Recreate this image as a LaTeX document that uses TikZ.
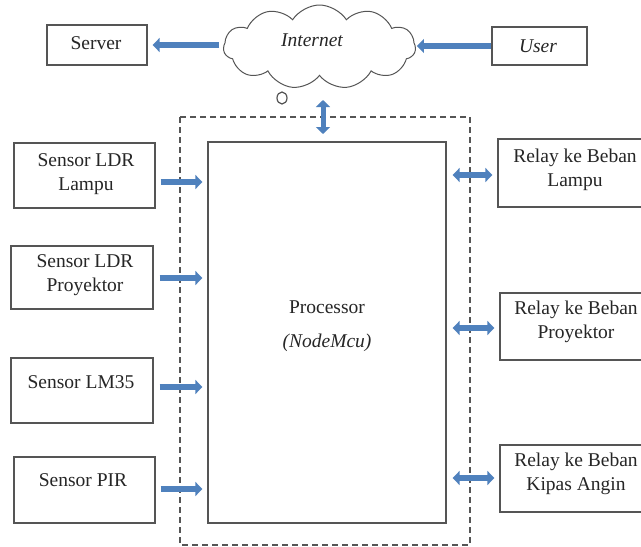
\documentclass[tikz,border=0pt]{standalone}
\usepackage{fontspec}
\setmainfont{Liberation Serif}
\usetikzlibrary{arrows.meta,shapes.symbols,shapes.geometric}
\definecolor{arrowblue}{HTML}{4F81BD}
\definecolor{boxline}{HTML}{555555}
\definecolor{txt}{HTML}{262626}
\begin{document}
\begin{tikzpicture}[x=1pt,y=-1pt,
  font=\fontsize{19.5}{23.5}\selectfont,
  box/.style={draw=boxline,line width=1.3pt,rectangle,inner sep=0pt},
  lbl/.style={text=txt,align=center,inner sep=0pt},
  fat/.style={draw=arrowblue,line width=5.5pt,-{Triangle[length=7pt,width=14pt]}},
  dfat/.style={draw=arrowblue,line width=5.5pt,{Triangle[length=7pt,width=14pt]}-{Triangle[length=7pt,width=14pt]}},
  dashbox/.style={draw=boxline,line width=1.3pt,dash pattern=on 6pt off 4pt}
]
\useasboundingbox (0,0) rectangle (641,547);
\fill[white] (0,0) rectangle (641,547);

% dashed enclosure
\draw[dashbox] (180,117) rectangle (470,545);

% top row
\node[box,minimum width=100pt,minimum height=40pt] (server) at (97,45) {};
\node[lbl] (serverT) at (96,43) {Server};
\node[box,minimum width=95pt,minimum height=38pt] (user) at (539.5,46) {};
\node[lbl] (userT) at (538,46) {\itshape User};
\node[cloud,draw=boxline,line width=1pt,cloud puffs=11,cloud puff arc=115,aspect=2.3,
      minimum width=192pt,minimum height=84pt,inner sep=0pt] (cloud) at (319.5,47) {};
\node[lbl] (cloudT) at (312,40) {\itshape Internet};
\draw[boxline,line width=1.2pt] (282,98) ellipse (5pt and 6pt);

% processor
\node[box,minimum width=238pt,minimum height=381pt] (proc) at (327,332.5) {};
\node[lbl] (procT) at (327,307) {Processor};
\node[lbl] (procN) at (327,343) {\itshape (NodeMcu)};

% sensors
\node[box,minimum width=141pt,minimum height=65pt] (s1) at (84.5,175.5) {};
\node[lbl] (s1T) at (86,174) {Sensor LDR\\Lampu};
\node[box,minimum width=142pt,minimum height=63pt] (s2) at (82,277.5) {};
\node[lbl] (s2T) at (85,275) {Sensor LDR\\Proyektor};
\node[box,minimum width=142pt,minimum height=65pt] (s3) at (82,390.5) {};
\node[lbl] (s3T) at (81,382) {Sensor LM35};
\node[box,minimum width=141pt,minimum height=66pt] (s4) at (84.5,490) {};
\node[lbl] (s4T) at (83,480) {Sensor PIR};

% relays
\node[box,minimum width=154pt,minimum height=68pt] (r1) at (575,173) {};
\node[lbl] (r1T) at (575,170) {Relay ke Beban\\Lampu};
\node[box,minimum width=152pt,minimum height=67pt] (r2) at (576,326.5) {};
\node[lbl] (r2T) at (576,322) {Relay ke Beban\\Proyektor};
\node[box,minimum width=152pt,minimum height=67pt] (r3) at (576,478.5) {};
\node[lbl] (r3T) at (576,474) {Relay ke Beban\\Kipas Angin};

% connectors
\draw[fat,shorten <=4pt,shorten >=5pt] (server.east -| cloud.west) -- (server.east);
\draw[fat,shorten <=0pt,shorten >=1pt] (user.west) -- (user.west -| cloud.east);
\coordinate (vt) at (323,100);
\coordinate (vb) at (323,134);
\draw[dfat,line width=5pt] (vt) -- (vb);

\coordinate (a1) at (0,182);
\coordinate (a2) at (0,278);
\coordinate (a3) at (0,387);
\coordinate (a4) at (0,489);
\draw[fat,shorten <=5pt,shorten >=5pt] (s1.east |- a1) -- (proc.west |- a1);
\draw[fat,shorten <=6pt,shorten >=5pt] (s2.east |- a2) -- (proc.west |- a2);
\draw[fat,shorten <=6pt,shorten >=5pt] (s3.east |- a3) -- (proc.west |- a3);
\draw[fat,shorten <=5pt,shorten >=5pt] (s4.east |- a4) -- (proc.west |- a4);

\coordinate (b1) at (0,175);
\coordinate (b2) at (0,328);
\coordinate (b3) at (0,478);
\draw[dfat,shorten <=6pt,shorten >=5pt] (proc.east |- b1) -- (r1.west |- b1);
\draw[dfat,shorten <=6pt,shorten >=5pt] (proc.east |- b2) -- (r2.west |- b2);
\draw[dfat,shorten <=6pt,shorten >=5pt] (proc.east |- b3) -- (r3.west |- b3);
\end{tikzpicture}
\end{document}
